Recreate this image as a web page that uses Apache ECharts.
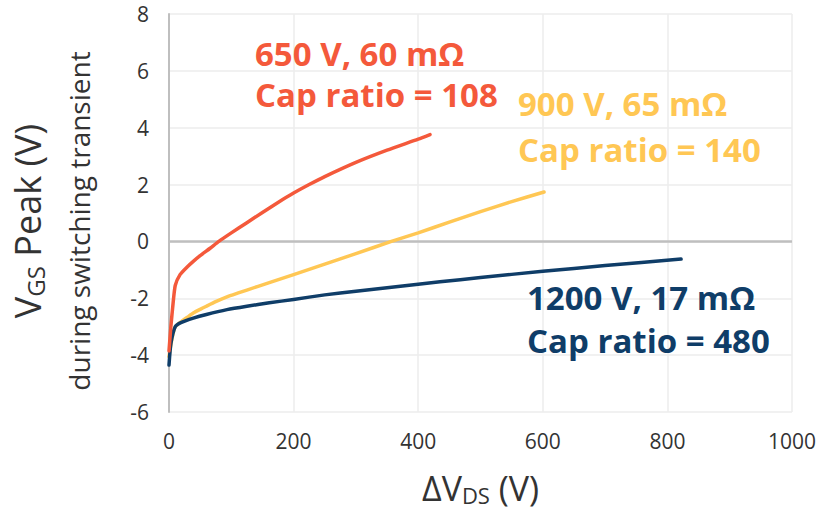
<!DOCTYPE html>
<html><head><meta charset="utf-8">
<script src="https://cdn.jsdelivr.net/npm/echarts@6/dist/echarts.min.js"></script>
<style>html,body{margin:0;padding:0;background:#fff}#c{width:817px;height:513px}</style>
</head><body><div id="c"></div>
<script>
// ΔV_DS (V) vs peak V_GS (V)
const red650 = [[0,-3.85],[3,-3.0],[6,-2.3],[10,-1.55],[18,-1.16],[30,-0.88],[39,-0.7],[50,-0.5],[66,-0.24],[80,0],[100,0.3],[125,0.66],[150,1.02],[175,1.37],[200,1.7],[225,2.0],[250,2.28],[300,2.78],[350,3.21],[400,3.6],[419,3.76]];
const yellow900 = [[0,-4.05],[5,-3.4],[10,-3.0],[20,-2.82],[30,-2.66],[39,-2.52],[50,-2.39],[60,-2.28],[75,-2.12],[93,-1.95],[110,-1.82],[125,-1.71],[161,-1.45],[200,-1.17],[250,-0.8],[300,-0.43],[357,0],[400,0.3],[450,0.68],[500,1.05],[550,1.4],[602,1.74]];
const navy1200 = [[0,-4.35],[3,-3.6],[10,-3.0],[20,-2.85],[39,-2.7],[60,-2.57],[93,-2.4],[125,-2.28],[161,-2.16],[200,-2.04],[250,-1.88],[300,-1.75],[350,-1.63],[400,-1.51],[435,-1.42],[500,-1.27],[600,-1.05],[700,-0.85],[822,-0.62]];
const xTicks = [0,200,400,600,800,1000];
const yTicks = [-6,-4,-2,0,2,4,6,8];
const labels = [
  {lines:['650 V, 60 mΩ','Cap ratio = 108'], color:'#F4593B'},
  {lines:['900 V, 65 mΩ','Cap ratio = 140'], color:'#FFC754'},
  {lines:['1200 V, 17 mΩ','Cap ratio = 480'], color:'#0F3D68'}
];
const FONT = '"Open Sans", "Noto Sans", sans-serif';
const chart = echarts.init(document.getElementById('c'), null, {renderer:'svg'});
function lineSeries(name, data, color, extra){
  return Object.assign({
    name, type:'line', data, showSymbol:false, smooth:0.2,
    lineStyle:{color, width:3.5, cap:'round', join:'round'}, itemStyle:{color}, z:3, silent:true
  }, extra||{});
}
const annotPos = [[255,52,93],[518,102,148],[527,296,339]];
const graphics = [];
labels.forEach((l,i)=>{
  const p = annotPos[i];
  graphics.push({type:'text', x:p[0], y:p[1]+1, z:10, style:{text:l.lines[0], fill:l.color, font:'bold 33px '+FONT, verticalAlign:'middle'}});
  graphics.push({type:'text', x:p[0], y:p[2]+1, z:10, style:{text:l.lines[1], fill:l.color, font:'bold 33px '+FONT, verticalAlign:'middle'}});
});
chart.setOption({
  animation:false,
  grid:{left:169, right:25, top:14, bottom:101, containLabel:false, outerBoundsMode:'none'},
  xAxis:{type:'value', min:xTicks[0], max:xTicks[xTicks.length-1], interval:200,
    axisLine:{show:false}, axisTick:{show:false},
    splitLine:{show:true, lineStyle:{color:'#EDEDED', width:1.5}},
    axisLabel:{fontFamily:FONT, fontSize:21, color:'#333', margin:18, formatter:v=>String(v)},
    name:'{a|ΔV}{b|DS}{a| (V)}', nameLocation:'middle', nameGap:58,
    nameTextStyle:{rich:{a:{fontFamily:FONT, fontSize:34, color:'#333'}, b:{fontFamily:FONT, fontSize:22, color:'#333', padding:[14,0,0,0]}}}
  },
  yAxis:{type:'value', min:yTicks[0], max:yTicks[yTicks.length-1], interval:2,
    axisLine:{show:true, lineStyle:{color:'#BFBFBF', width:2}}, axisTick:{show:false},
    splitLine:{show:true, lineStyle:{color:'#EDEDED', width:1.5}},
    axisLabel:{fontFamily:FONT, fontSize:21, color:'#333', margin:20},
    name:'{a|V}{b|GS}{a| Peak (V)}\n{c|during switching transient}', nameLocation:'middle', nameGap:66,
    nameTextStyle:{padding:[0,16,0,0], rich:{
      a:{fontFamily:FONT, fontSize:36, color:'#333', lineHeight:56},
      b:{fontFamily:FONT, fontSize:24, color:'#333', padding:[16,0,0,0], lineHeight:56},
      c:{fontFamily:FONT, fontSize:28, color:'#333', lineHeight:48}}}
  },
  series:[
    lineSeries('900 V, 65 mΩ', yellow900, '#FFC754', {markLine:{silent:true, symbol:'none', label:{show:false},
      lineStyle:{color:'#BFBFBF', width:2.5, type:'solid'}, data:[{yAxis:0}], z:1}}),
    lineSeries('1200 V, 17 mΩ', navy1200, '#0F3D68'),
    lineSeries('650 V, 60 mΩ', red650, '#F4593B')
  ],
  graphic:graphics
});
</script></body></html>
